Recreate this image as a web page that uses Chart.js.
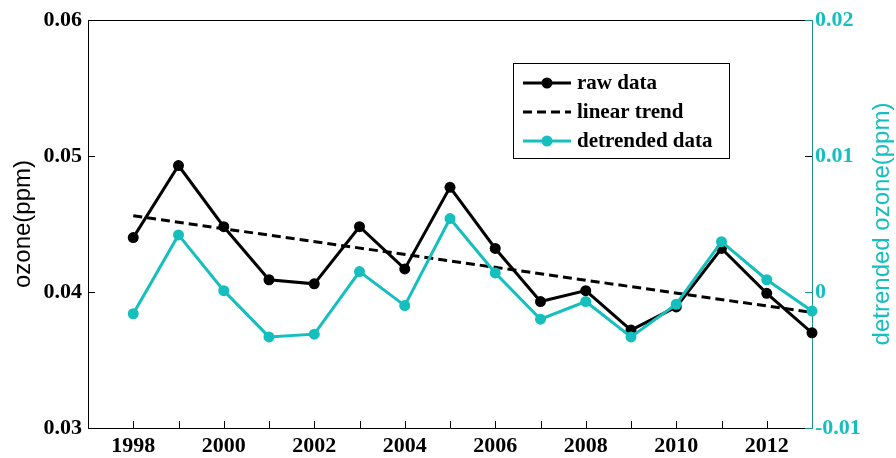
<!DOCTYPE html>
<html>
<head>
<meta charset="utf-8">
<title>ozone</title>
<script src="https://cdn.jsdelivr.net/npm/chart.js@4.4.0/dist/chart.umd.min.js"></script>
<style>
  body { margin: 0; background: #fff; }
  #wrap { width: 896px; height: 458px; }
</style>
</head>
<body>
<div id="wrap"><canvas id="myChart" width="896" height="458"></canvas></div>
<script>
var years = [1998, 1999, 2000, 2001, 2002, 2003, 2004, 2005, 2006, 2007, 2008, 2009, 2010, 2011, 2012, 2013];
var rawOzone = [0.0440, 0.0493, 0.0448, 0.0409, 0.0406, 0.0448, 0.0417, 0.0477, 0.0432, 0.0393, 0.0401, 0.0372, 0.0389, 0.0432, 0.0399, 0.0370];
var trendYears = [1998, 2013];
var trendOzone = [0.0456, 0.0385];
var detrendedOzone = [-0.0016, 0.0042, 0.0001, -0.0033, -0.0031, 0.0015, -0.0010, 0.0054, 0.0014, -0.0020, -0.0007, -0.0033, -0.0009, 0.0037, 0.0009, -0.0014];

var yearTicks = [1998, 1999, 2000, 2001, 2002, 2003, 2004, 2005, 2006, 2007, 2008, 2009, 2010, 2011, 2012];
var yearLabels = [1998, 2000, 2002, 2004, 2006, 2008, 2010, 2012];
var ozoneTicks = [0.03, 0.04, 0.05, 0.06];
var ozoneLabels = ['0.03', '0.04', '0.05', '0.06'];
var detrendTicks = [-0.01, 0, 0.01, 0.02];
var detrendLabels = ['-0.01', '0', '0.01', '0.02'];

var tealColor = '#14bfbd';
var tealAxis = '#1f8f8f';
var tickFont = { family: 'Liberation Serif', size: 22, weight: 'bold' };

function toPoints(xs, ys) {
    return xs.map(function (x, i) { return { x: x, y: ys[i] }; });
}

function crisp(v) {
    return Math.round(v) + 0.5;
}

// short tick marks pointing into the plot, plus the top edge of the box
var innerTicks = {
    id: 'innerTicks',
    beforeDatasetsDraw: function (chart) {
        var ctx = chart.ctx;
        var area = chart.chartArea;
        var sx = chart.scales.x, sy = chart.scales.y, sy1 = chart.scales.y1;
        var len = 7;
        ctx.save();
        ctx.lineWidth = 1;
        ctx.strokeStyle = '#000';
        ctx.beginPath();
        ctx.moveTo(area.left, crisp(area.top));
        ctx.lineTo(area.right, crisp(area.top));
        yearTicks.forEach(function (yr) {
            var px = crisp(sx.getPixelForValue(yr));
            ctx.moveTo(px, area.bottom);
            ctx.lineTo(px, area.bottom - len);
        });
        ozoneTicks.forEach(function (v) {
            var py = crisp(sy.getPixelForValue(v));
            ctx.moveTo(area.left, py);
            ctx.lineTo(area.left + len, py);
            ctx.moveTo(area.right, py);
            ctx.lineTo(area.right - len, py);
        });
        ctx.stroke();
        ctx.strokeStyle = tealAxis;
        ctx.beginPath();
        detrendTicks.forEach(function (v) {
            if (v === 0.01) return;
            var py = crisp(sy1.getPixelForValue(v));
            ctx.moveTo(area.right, py);
            ctx.lineTo(area.right - len, py);
        });
        ctx.stroke();
        ctx.restore();
    }
};

// rotated axis titles, both reading bottom to top
var axisTitles = {
    id: 'axisTitles',
    afterDraw: function (chart) {
        var ctx = chart.ctx;
        var area = chart.chartArea;
        var mid = (area.top + area.bottom) / 2;
        ctx.save();
        ctx.font = '24px "Liberation Sans"';
        ctx.textAlign = 'center';
        ctx.textBaseline = 'middle';
        ctx.translate(23, mid);
        ctx.rotate(-Math.PI / 2);
        ctx.fillStyle = '#000';
        ctx.fillText('ozone(ppm)', 0, 0);
        ctx.restore();

        ctx.save();
        ctx.font = '24px "Liberation Sans"';
        ctx.textAlign = 'center';
        ctx.textBaseline = 'middle';
        ctx.translate(882, mid);
        ctx.rotate(-Math.PI / 2);
        ctx.fillStyle = tealColor;
        ctx.fillText('detrended ozone(ppm)', 0, 0);
        ctx.restore();
    }
};

// boxed legend sitting inside the plot area
var boxLegend = {
    id: 'boxLegend',
    afterDraw: function (chart) {
        var ctx = chart.ctx;
        var area = chart.chartArea;
        var left = Math.round(area.right - 299);
        var top = Math.round(area.top + 43);
        var w = 216, h = 95;
        ctx.save();
        ctx.fillStyle = '#fff';
        ctx.fillRect(left, top, w, h);
        ctx.strokeStyle = '#000';
        ctx.lineWidth = 1;
        ctx.strokeRect(left + 0.5, top + 0.5, w, h);
        ctx.font = 'bold 21px "Liberation Serif"';
        ctx.textBaseline = 'middle';
        chart.data.datasets.forEach(function (ds, i) {
            var yy = top + 20 + i * 29;
            ctx.strokeStyle = ds.borderColor;
            ctx.lineWidth = ds.borderWidth;
            ctx.setLineDash(ds.borderDash || []);
            ctx.beginPath();
            ctx.moveTo(left + 10, yy);
            ctx.lineTo(left + 58, yy);
            ctx.stroke();
            ctx.setLineDash([]);
            if (ds.pointRadius > 0) {
                ctx.fillStyle = ds.pointBackgroundColor;
                ctx.beginPath();
                ctx.arc(left + 34, yy, ds.pointRadius, 0, Math.PI * 2);
                ctx.fill();
            }
            ctx.fillStyle = '#000';
            ctx.fillText(ds.label, left + 64, yy + 1);
        });
        ctx.restore();
    }
};

var ctx = document.getElementById('myChart').getContext('2d');
var ozoneChart = new Chart(ctx, {
    type: 'line',
    data: {
        datasets: [
            {
                label: 'raw data',
                data: toPoints(years, rawOzone),
                yAxisID: 'y',
                borderColor: '#000',
                borderWidth: 3,
                pointRadius: 5.5,
                pointBackgroundColor: '#000',
                pointBorderColor: '#000',
                pointBorderWidth: 0,
                clip: false,
                order: 2
            },
            {
                label: 'linear trend',
                data: toPoints(trendYears, trendOzone),
                yAxisID: 'y',
                borderColor: '#000',
                borderWidth: 3,
                borderDash: [9, 5],
                pointRadius: 0,
                clip: false,
                order: 1
            },
            {
                label: 'detrended data',
                data: toPoints(years, detrendedOzone),
                yAxisID: 'y1',
                borderColor: tealColor,
                borderWidth: 3,
                pointRadius: 5.5,
                pointBackgroundColor: tealColor,
                pointBorderColor: tealColor,
                pointBorderWidth: 0,
                clip: false,
                order: 0
            }
        ]
    },
    options: {
        responsive: false,
        animation: false,
        layout: { padding: { top: 20, left: 0, right: 0, bottom: 0 } },
        plugins: {
            legend: { display: false },
            tooltip: { enabled: false }
        },
        scales: {
            x: {
                type: 'linear',
                min: 1997,
                max: 2013,
                afterFit: function (scale) { scale.height = 30; },
                afterBuildTicks: function (scale) {
                    scale.ticks = yearTicks.map(function (v) { return { value: v }; });
                },
                grid: { display: false, drawTicks: false },
                border: { display: true, color: '#000', width: 1 },
                ticks: {
                    autoSkip: false,
                    maxRotation: 0,
                    padding: 5,
                    color: '#000',
                    font: tickFont,
                    callback: function (value) {
                        return yearLabels.indexOf(value) >= 0 ? String(value) : '';
                    }
                }
            },
            y: {
                position: 'left',
                min: 0.03,
                max: 0.06,
                afterFit: function (scale) { scale.width = 88; },
                afterBuildTicks: function (scale) {
                    scale.ticks = ozoneTicks.map(function (v) { return { value: v }; });
                },
                grid: { display: false, drawTicks: false },
                border: { display: true, color: '#000', width: 1 },
                ticks: {
                    padding: 6,
                    color: '#000',
                    font: tickFont,
                    callback: function (value, index) { return ozoneLabels[index]; }
                }
            },
            y1: {
                position: 'right',
                min: -0.01,
                max: 0.02,
                afterFit: function (scale) { scale.width = 84; },
                afterBuildTicks: function (scale) {
                    scale.ticks = detrendTicks.map(function (v) { return { value: v }; });
                },
                grid: { display: false, drawTicks: false },
                border: { display: true, color: tealAxis, width: 1 },
                ticks: {
                    padding: 3,
                    color: tealColor,
                    font: tickFont,
                    callback: function (value, index) { return detrendLabels[index]; }
                }
            }
        }
    },
    plugins: [innerTicks, axisTitles, boxLegend]
});
</script>
</body>
</html>
